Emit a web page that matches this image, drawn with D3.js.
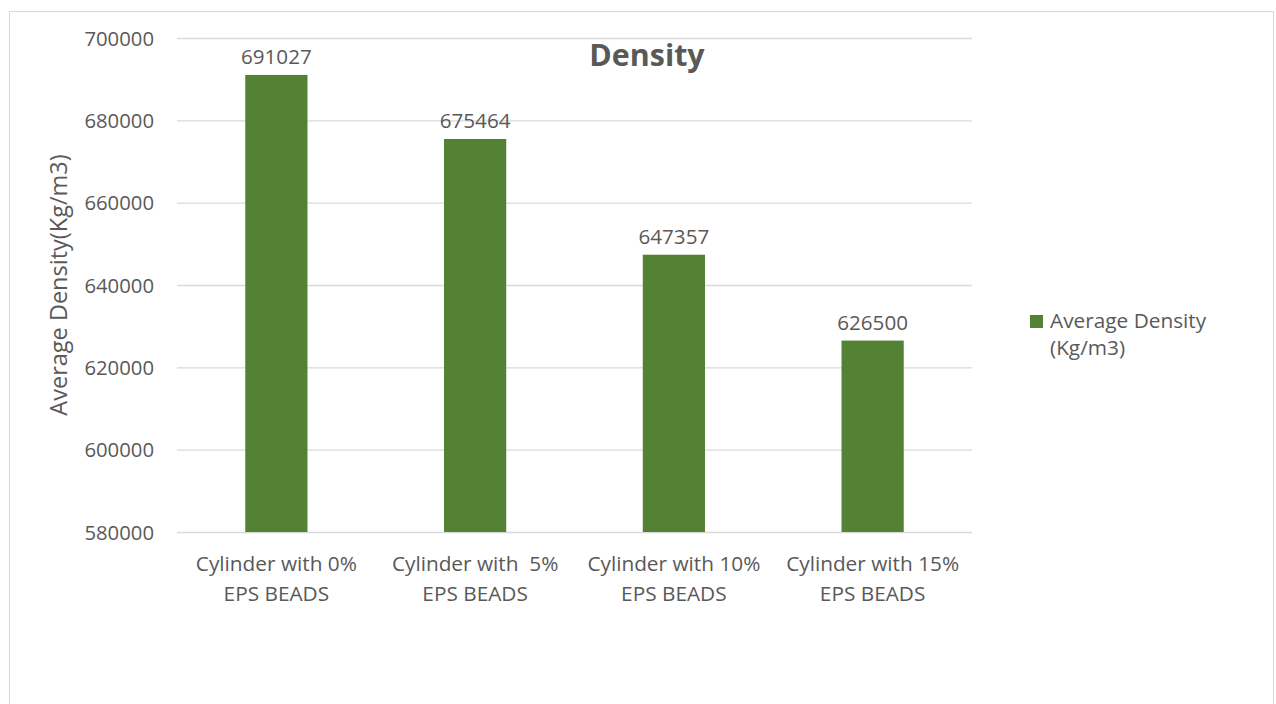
<!DOCTYPE html>
<html lang="en">
<head>
<meta charset="UTF-8">
<script src="https://d3js.org/d3.v7.min.js"></script>
<style>
    body { margin: 0; background: #fff; }
    text { font-family: "Open Sans", sans-serif; fill: #595959; }
</style>
</head>
<body>
<div id="chart"></div>
<script>
    // data
    const categories = [["Cylinder with 0%", "EPS BEADS"], ["Cylinder with  5%", "EPS BEADS"], ["Cylinder with 10%", "EPS BEADS"], ["Cylinder with 15%", "EPS BEADS"]];
    const density = [691027, 675464, 647357, 626500];
    const yTicks = [580000, 600000, 620000, 640000, 660000, 680000, 700000];
    const seriesName = ["Average Density", "(Kg/m3)"];

    const width = 1276, height = 704;
    const plotLeft = 177, plotRight = 972, plotTop = 38, plotBottom = 532;
    const barColor = "#548235";

    const svg = d3.select("#chart").append("svg")
        .attr("width", width)
        .attr("height", height);

    // chart border
    svg.append("rect")
        .attr("x", 9.5).attr("y", 11.5)
        .attr("width", 1264).attr("height", 720)
        .attr("fill", "none").attr("stroke", "#d9d9d9");

    const x = d3.scaleBand().domain(d3.range(categories.length)).range([plotLeft, plotRight]).padding(0);
    const y = d3.scaleLinear().domain([580000, 700000]).range([plotBottom, plotTop]);
    const barW = x.bandwidth() * 0.313;

    // gridlines
    const yAxis = d3.axisLeft(y).tickValues(yTicks).tickSize(-(plotRight - plotLeft)).tickFormat(d3.format("d"));
    const gy = svg.append("g").attr("transform", `translate(${plotLeft},0)`).call(yAxis);
    gy.select(".domain").remove();
    gy.selectAll(".tick line").attr("stroke", "#d9d9d9").attr("stroke-width", 1.3);
    gy.selectAll(".tick text").attr("x", -23).attr("dy", "0.35em")
        .style("font-size", "20.3px").style("fill", "#595959");

    // bars
    svg.selectAll("rect.bar")
        .data(density)
        .enter()
        .append("rect")
        .attr("class", "bar")
        .attr("x", (d, i) => x(i) + (x.bandwidth() - barW) / 2)
        .attr("y", d => y(d))
        .attr("width", barW)
        .attr("height", d => y(580000) - y(d))
        .attr("fill", barColor);

    // data labels
    svg.selectAll("text.lbl")
        .data(density)
        .enter()
        .append("text")
        .attr("class", "lbl")
        .attr("x", (d, i) => x(i) + x.bandwidth() / 2)
        .attr("y", d => y(d) - 11)
        .attr("text-anchor", "middle")
        .style("font-size", "20.6px")
        .text(d => d);

    // x labels
    const xl = svg.selectAll("text.xl")
        .data(categories)
        .enter()
        .append("text")
        .attr("class", "xl")
        .attr("text-anchor", "middle")
        .style("font-size", "20.8px")
        .style("white-space", "pre");
    xl.each(function (d, i) {
        d.forEach((line, j) => {
            d3.select(this).append("tspan")
                .attr("x", x(i) + x.bandwidth() / 2)
                .attr("y", 571 + j * 30)
                .text(line);
        });
    });

    // y axis title
    svg.append("text")
        .attr("transform", `translate(67,${(plotTop + plotBottom) / 2}) rotate(-90)`)
        .attr("text-anchor", "middle")
        .style("font-size", "23.5px")
        .text("Average Density(Kg/m3)");

    // title
    svg.append("text")
        .attr("x", 647).attr("y", 66)
        .attr("text-anchor", "middle")
        .style("font-size", "30.4px")
        .style("font-weight", "bold")
        .text("Density");

    // legend
    svg.append("rect")
        .attr("x", 1030).attr("y", 315)
        .attr("width", 13).attr("height", 13)
        .attr("fill", barColor);
    svg.selectAll("text.leg")
        .data(seriesName)
        .enter()
        .append("text")
        .attr("class", "leg")
        .attr("x", 1050)
        .attr("y", (d, i) => 328 + i * 27)
        .style("font-size", "20.8px")
        .text(d => d);
</script>
</body>
</html>
